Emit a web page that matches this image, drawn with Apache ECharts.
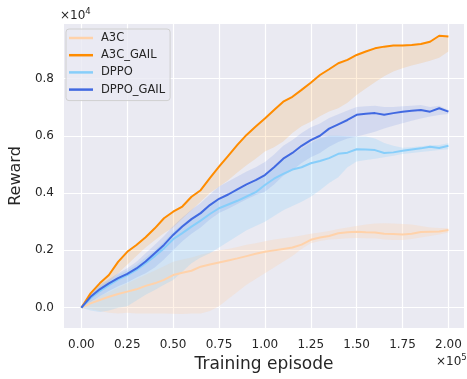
<!DOCTYPE html>
<html>
<head>
<meta charset="utf-8">
<script src="https://cdn.jsdelivr.net/npm/echarts@6/dist/echarts.min.js"></script>
<style>
html,body{margin:0;padding:0;background:#fff;}
#chart{width:467px;height:379px;}
</style>
</head>
<body>
<div id="chart"></div>
<script>
// Training episode (x 1e5)
const episodes = [0, 0.05, 0.1, 0.15, 0.2, 0.25, 0.3, 0.35, 0.4, 0.45, 0.5, 0.55, 0.6, 0.65, 0.7, 0.75, 0.8, 0.85, 0.9, 0.95, 1.0,
  1.05, 1.1, 1.15, 1.2, 1.25, 1.3, 1.35, 1.4, 1.45, 1.5, 1.55, 1.6, 1.65, 1.7, 1.75, 1.8, 1.85, 1.9, 1.95, 2.0];
const xTicks = ['0.00', '0.25', '0.50', '0.75', '1.00', '1.25', '1.50', '1.75', '2.00'];
const yTicks = ['0.0', '0.2', '0.4', '0.6', '0.8'];
const seriesNames = ['A3C', 'A3C_GAIL', 'DPPO', 'DPPO_GAIL'];

// Reward (x 1e4)
const a3cMean = [0, 0.015, 0.027, 0.038, 0.048, 0.056, 0.064, 0.076, 0.085, 0.097, 0.114, 0.122, 0.129, 0.143, 0.151, 0.158, 0.165, 0.172, 0.18, 0.188, 0.195,
  0.2, 0.205, 0.21, 0.22, 0.237, 0.245, 0.25, 0.26, 0.263, 0.265, 0.263, 0.262, 0.258, 0.257, 0.255, 0.258, 0.264, 0.265, 0.266, 0.271];
const a3cUpper = [0, 0.025, 0.04, 0.055, 0.07, 0.085, 0.1, 0.115, 0.13, 0.145, 0.16, 0.168, 0.175, 0.185, 0.193, 0.2, 0.205, 0.212, 0.22, 0.225, 0.232,
  0.238, 0.242, 0.247, 0.252, 0.258, 0.262, 0.268, 0.275, 0.28, 0.285, 0.29, 0.294, 0.295, 0.294, 0.292, 0.29, 0.285, 0.28, 0.278, 0.277];
const a3cLower = [0, -0.005, -0.012, -0.018, -0.02, -0.018, -0.02, -0.02, -0.02, -0.02, -0.021, -0.022, -0.02, -0.02, -0.012, 0.005, 0.03, 0.055, 0.08, 0.1, 0.12,
  0.14, 0.16, 0.18, 0.205, 0.225, 0.233, 0.238, 0.24, 0.242, 0.243, 0.242, 0.242, 0.238, 0.236, 0.236, 0.24, 0.245, 0.25, 0.255, 0.262];

const a3cGailMean = [0, 0.05, 0.085, 0.114, 0.16, 0.195, 0.219, 0.246, 0.277, 0.312, 0.335, 0.353, 0.387, 0.41, 0.452, 0.492, 0.53, 0.568, 0.603, 0.632, 0.66,
  0.69, 0.719, 0.736, 0.76, 0.785, 0.812, 0.832, 0.853, 0.865, 0.882, 0.894, 0.905, 0.911, 0.915, 0.915, 0.917, 0.92, 0.928, 0.949, 0.946];
const a3cGailUpper = [0, 0.053, 0.088, 0.117, 0.163, 0.198, 0.222, 0.249, 0.28, 0.315, 0.338, 0.356, 0.39, 0.413, 0.455, 0.495, 0.533, 0.571, 0.606, 0.635, 0.663,
  0.693, 0.722, 0.739, 0.763, 0.788, 0.815, 0.835, 0.856, 0.868, 0.885, 0.897, 0.908, 0.914, 0.918, 0.918, 0.92, 0.923, 0.931, 0.952, 0.949];
const a3cGailLower = [0, 0.03, 0.06, 0.09, 0.12, 0.15, 0.18, 0.21, 0.235, 0.26, 0.28, 0.31, 0.34, 0.37, 0.4, 0.422, 0.445, 0.472, 0.497, 0.52, 0.545,
  0.56, 0.58, 0.61, 0.633, 0.649, 0.668, 0.685, 0.696, 0.715, 0.742, 0.765, 0.787, 0.808, 0.824, 0.836, 0.845, 0.853, 0.862, 0.872, 0.894];

const dppoMean = [0, 0.033, 0.058, 0.079, 0.099, 0.114, 0.132, 0.155, 0.18, 0.207, 0.239, 0.26, 0.283, 0.304, 0.327, 0.347, 0.36, 0.373, 0.388, 0.403, 0.428,
  0.45, 0.467, 0.482, 0.49, 0.504, 0.512, 0.522, 0.537, 0.541, 0.553, 0.552, 0.55, 0.54, 0.542, 0.548, 0.552, 0.556, 0.562, 0.557, 0.565];
const dppoUpper = [0, 0.045, 0.075, 0.095, 0.115, 0.13, 0.15, 0.175, 0.2, 0.23, 0.265, 0.29, 0.315, 0.335, 0.36, 0.38, 0.395, 0.41, 0.425, 0.44, 0.465,
  0.49, 0.515, 0.535, 0.555, 0.575, 0.59, 0.6, 0.6, 0.598, 0.597, 0.597, 0.59, 0.575, 0.565, 0.558, 0.56, 0.563, 0.567, 0.568, 0.574];
const dppoLower = [0, -0.01, -0.015, -0.01, 0, 0.005, 0.025, 0.045, 0.062, 0.08, 0.097, 0.125, 0.155, 0.175, 0.19, 0.21, 0.23, 0.25, 0.27, 0.285, 0.3,
  0.32, 0.34, 0.355, 0.37, 0.387, 0.41, 0.435, 0.455, 0.49, 0.51, 0.515, 0.52, 0.525, 0.53, 0.536, 0.54, 0.543, 0.547, 0.55, 0.553];

const dppoGailMean = [0, 0.038, 0.064, 0.085, 0.103, 0.118, 0.137, 0.161, 0.19, 0.219, 0.254, 0.283, 0.309, 0.33, 0.358, 0.38, 0.395, 0.413, 0.43, 0.445, 0.463,
  0.49, 0.52, 0.54, 0.565, 0.585, 0.6, 0.625, 0.64, 0.655, 0.673, 0.677, 0.679, 0.673, 0.679, 0.684, 0.687, 0.69, 0.684, 0.696, 0.684];
const dppoGailUpper = [0, 0.05, 0.08, 0.1, 0.12, 0.138, 0.16, 0.19, 0.22, 0.25, 0.285, 0.315, 0.342, 0.365, 0.395, 0.423, 0.44, 0.458, 0.475, 0.49, 0.508,
  0.535, 0.565, 0.585, 0.61, 0.63, 0.643, 0.662, 0.675, 0.688, 0.7, 0.703, 0.705, 0.7, 0.7, 0.703, 0.705, 0.707, 0.7, 0.705, 0.69];
const dppoGailLower = [0, 0.02, 0.04, 0.058, 0.075, 0.088, 0.105, 0.12, 0.14, 0.168, 0.2, 0.232, 0.258, 0.28, 0.308, 0.33, 0.345, 0.362, 0.378, 0.393, 0.405,
  0.43, 0.46, 0.48, 0.505, 0.525, 0.54, 0.562, 0.578, 0.59, 0.597, 0.605, 0.614, 0.625, 0.635, 0.644, 0.652, 0.66, 0.667, 0.672, 0.676];

const FONT = 'DejaVu Sans';
const TXT = '#262626';
const colors = { A3C: '#ffd2aa', A3C_GAIL: '#ff8c00', DPPO: '#87cefa', DPPO_GAIL: '#4169e1' };

function pairs(ys) { return episodes.map((x, i) => [x, ys[i]]); }

function band(lower, upper, fill) {
  return {
    type: 'custom',
    silent: true,
    clip: false,
    z: 1,
    data: [[0, 0]],
    renderItem: function (params, api) {
      const pts = [];
      for (let i = 0; i < episodes.length; i++) pts.push(api.coord([episodes[i], upper[i]]));
      for (let i = episodes.length - 1; i >= 0; i--) pts.push(api.coord([episodes[i], lower[i]]));
      return { type: 'polygon', shape: { points: pts }, style: { fill: fill } };
    }
  };
}

function line(name, ys, z) {
  return {
    name: name, type: 'line', data: pairs(ys), symbol: 'none', clip: false, z: z,
    lineStyle: { width: 2, color: colors[name] }, itemStyle: { color: colors[name] }
  };
}

function isTick(v, list) {
  return list.some(t => Math.abs(parseFloat(t) - v) < 1e-6);
}

const chart = echarts.init(document.getElementById('chart'), null, { renderer: 'canvas' });
chart.setOption({
  animation: false,
  textStyle: { fontFamily: FONT },
  grid: { left: 60, right: 0, top: 24, bottom: 51, show: true, backgroundColor: '#eaeaf2', borderWidth: 0 },
  legend: {
    data: seriesNames, orient: 'vertical', left: 66, top: 29,
    icon: 'rect', itemWidth: 24, itemHeight: 2.5, itemGap: 3.2,
    padding: [2, 5, 4, 3],
    backgroundColor: 'rgba(234,234,242,0.8)', borderColor: '#d0d0d0', borderWidth: 1, borderRadius: 3,
    textStyle: { fontFamily: FONT, fontSize: 11.5, lineHeight: 14, color: TXT, padding: [0, 0, 0, 3] }
  },
  xAxis: {
    type: 'value', min: -0.0948, max: 2.085, minInterval: 0.25, maxInterval: 0.25,
    name: 'Training episode', nameLocation: 'middle', nameGap: 28,
    nameTextStyle: { fontFamily: FONT, fontSize: 17, color: TXT },
    axisLine: { show: false }, axisTick: { show: false },
    axisLabel: { fontFamily: FONT, fontSize: 12, color: TXT, margin: 11,
      formatter: v => isTick(v, xTicks) ? v.toFixed(2) : '' },
    splitLine: { show: true, showMinLine: false, showMaxLine: false, lineStyle: { color: '#ffffff', width: 1.2 } }
  },
  yAxis: {
    type: 'value', min: -0.0709, max: 0.99, minInterval: 0.2, maxInterval: 0.2,
    name: 'Reward', nameLocation: 'middle', nameGap: 37,
    nameTextStyle: { fontFamily: FONT, fontSize: 16, color: TXT },
    axisLine: { show: false }, axisTick: { show: false },
    axisLabel: { fontFamily: FONT, fontSize: 12, color: TXT, margin: 10,
      formatter: v => isTick(v, yTicks) ? v.toFixed(1) : '' },
    splitLine: { show: true, showMinLine: false, showMaxLine: false, lineStyle: { color: '#ffffff', width: 1.2 } }
  },
  graphic: [
    { type: 'text', left: 60, top: 7, style: { text: '{a|×10}{b|4}', rich: { a: { fontFamily: FONT, fontSize: 12, fill: TXT }, b: { fontFamily: FONT, fontSize: 8.5, fill: TXT, padding: [0, 0, 8, 0] } } } },
    { type: 'text', left: 436, top: 353, style: { text: '{a|×10}{b|5}', rich: { a: { fontFamily: FONT, fontSize: 12, fill: TXT }, b: { fontFamily: FONT, fontSize: 8.5, fill: TXT, padding: [0, 0, 8, 0] } } } }
  ],
  series: [
    band(a3cLower, a3cUpper, 'rgba(255,210,170,0.28)'),
    band(a3cGailLower, a3cGailUpper, 'rgba(255,140,0,0.14)'),
    band(dppoLower, dppoUpper, 'rgba(135,206,250,0.25)'),
    band(dppoGailLower, dppoGailUpper, 'rgba(65,105,225,0.13)'),
    line('A3C', a3cMean, 3),
    line('A3C_GAIL', a3cGailMean, 4),
    line('DPPO', dppoMean, 5),
    line('DPPO_GAIL', dppoGailMean, 6)
  ]
});
</script>
</body>
</html>
